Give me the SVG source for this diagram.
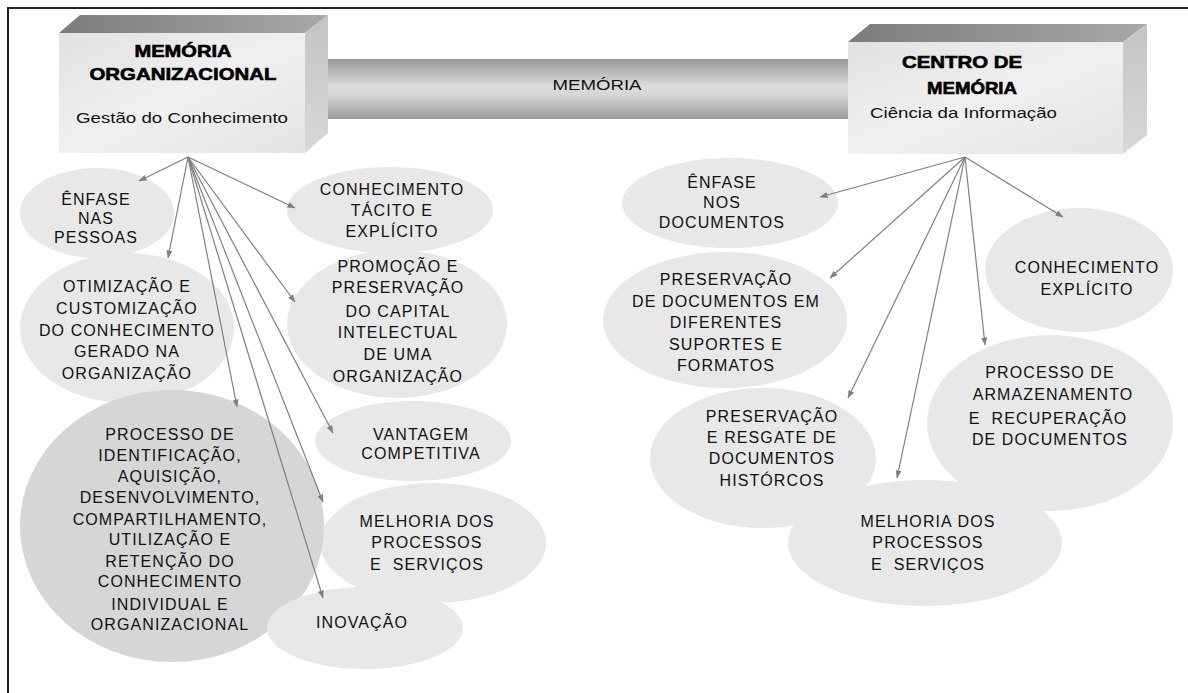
<svg xmlns="http://www.w3.org/2000/svg" width="1188" height="693" viewBox="0 0 1188 693">
<defs>
<style>
.t{font-family:"Liberation Sans",Arial,sans-serif;font-size:16px;letter-spacing:1.1px;fill:#111;text-anchor:middle}
.h{font-family:"Liberation Sans",Arial,sans-serif;font-size:17px;font-weight:bold;fill:#000;stroke:#000;stroke-width:0.6;text-anchor:middle}
.s{font-family:"Liberation Sans",Arial,sans-serif;font-size:15px;fill:#111;text-anchor:middle}
.e{fill:#e8e8e8}
.ed{fill:#d6d6d6}
.c{stroke:#808080;stroke-width:1.2;fill:none;marker-end:url(#ah)}
.pre{white-space:pre}
</style>
<marker id="ah" markerWidth="8" markerHeight="6" refX="7.5" refY="3" orient="auto" markerUnits="userSpaceOnUse">
<path d="M0,0 L8,3 L0,6 z" fill="#808080"/>
</marker>
<linearGradient id="bar" x1="0" y1="0" x2="0" y2="1">
<stop offset="0" stop-color="#999"/>
<stop offset="0.45" stop-color="#dcdcdc"/>
<stop offset="0.6" stop-color="#d6d6d6"/>
<stop offset="1" stop-color="#9c9c9c"/>
</linearGradient>
<linearGradient id="top" x1="0" y1="0" x2="1" y2="0">
<stop offset="0" stop-color="#7c7c7c"/>
<stop offset="1" stop-color="#a8a8a8"/>
</linearGradient>
<linearGradient id="front" x1="0" y1="0" x2="1" y2="1">
<stop offset="0" stop-color="#e2e2e2"/>
<stop offset="0.5" stop-color="#f0f0f0"/>
<stop offset="1" stop-color="#e4e4e4"/>
</linearGradient>
<linearGradient id="side" x1="0" y1="0" x2="0" y2="1">
<stop offset="0" stop-color="#c4c4c4"/>
<stop offset="1" stop-color="#d8d8d8"/>
</linearGradient>
</defs>
<rect width="1188" height="693" fill="#fff"/>
<path d="M8,693 V8 H1188" fill="none" stroke="#222" stroke-width="2"/>

<g id="memoria-bar">
<rect x="300" y="59" width="560" height="60" fill="url(#bar)"/>
<text class="s" x="597" y="90" font-size="14" textLength="89" lengthAdjust="spacingAndGlyphs">MEMÓRIA</text>
</g>

<g id="memoria-organizacional">
<polygon points="59,33 305,33 328,15 80,15" fill="url(#top)"/>
<polygon points="305,33 328,15 328,133 305,153" fill="url(#side)"/>
<rect x="59" y="33" width="246" height="120" fill="url(#front)"/>
<text class="h" x="183" y="57" textLength="97" lengthAdjust="spacingAndGlyphs">MEMÓRIA</text>
<text class="h" x="183" y="80" textLength="187" lengthAdjust="spacingAndGlyphs">ORGANIZACIONAL</text>
<text class="s" x="182" y="123" textLength="212" lengthAdjust="spacingAndGlyphs">Gestão do Conhecimento</text>
</g>

<g id="centro-de-memoria">
<polygon points="848,42 1123,42 1147,24 870,24" fill="url(#top)"/>
<polygon points="1123,42 1147,24 1147,135 1123,154" fill="url(#side)"/>
<rect x="848" y="42" width="275" height="112" fill="url(#front)"/>
<text class="h" x="962" y="68" textLength="120" lengthAdjust="spacingAndGlyphs">CENTRO DE</text>
<text class="h" x="972" y="94" textLength="90" lengthAdjust="spacingAndGlyphs">MEMÓRIA</text>
<text class="s" x="963.5" y="118" textLength="187" lengthAdjust="spacingAndGlyphs">Ciência da Informação</text>
</g>

<g id="enfase-pessoas">
<ellipse class="e" cx="97" cy="213" rx="77" ry="45"/>
<text class="t" x="96" y="205">ÊNFASE</text>
<text class="t" x="96" y="224">NAS</text>
<text class="t" x="96" y="243">PESSOAS</text>
</g>

<g id="conhecimento-tacito">
<ellipse class="e" cx="390" cy="210" rx="103" ry="43"/>
<text class="t" x="392" y="195">CONHECIMENTO</text>
<text class="t" x="392" y="216">TÁCITO E</text>
<text class="t" x="392" y="237">EXPLÍCITO</text>
</g>

<g id="otimizacao">
<ellipse class="e" cx="127" cy="328" rx="107" ry="75"/>
<text class="t" x="127" y="292">OTIMIZAÇÃO E</text>
<text class="t" x="127" y="314">CUSTOMIZAÇÃO</text>
<text class="t" x="127" y="336">DO CONHECIMENTO</text>
<text class="t" x="127" y="357">GERADO NA</text>
<text class="t" x="127" y="379">ORGANIZAÇÃO</text>
</g>

<g id="promocao">
<ellipse class="e" cx="397" cy="324" rx="110" ry="74"/>
<text class="t" x="398" y="272">PROMOÇÃO E</text>
<text class="t" x="398" y="293">PRESERVAÇÃO</text>
<text class="t" x="398" y="317">DO CAPITAL</text>
<text class="t" x="398" y="338">INTELECTUAL</text>
<text class="t" x="398" y="360">DE UMA</text>
<text class="t" x="398" y="382">ORGANIZAÇÃO</text>
</g>

<g id="vantagem">
<ellipse class="e" cx="413" cy="441" rx="98" ry="40"/>
<text class="t" x="421" y="440">VANTAGEM</text>
<text class="t" x="421" y="459">COMPETITIVA</text>
</g>

<g id="melhoria-esq">
<ellipse class="e" cx="433" cy="543" rx="113" ry="60"/>
<text class="t" x="427" y="527">MELHORIA DOS</text>
<text class="t" x="427" y="548">PROCESSOS</text>
<text class="t pre" x="427" y="570">E  SERVIÇOS</text>
</g>

<g id="processo-identificacao">
<ellipse class="ed" cx="172" cy="526" rx="152" ry="136"/>
<text class="t" x="170" y="440">PROCESSO DE</text>
<text class="t" x="170" y="461">IDENTIFICAÇÃO,</text>
<text class="t" x="170" y="482">AQUISIÇÃO,</text>
<text class="t" x="170" y="503">DESENVOLVIMENTO,</text>
<text class="t" x="170" y="525">COMPARTILHAMENTO,</text>
<text class="t" x="170" y="545">UTILIZAÇÃO E</text>
<text class="t" x="170" y="567">RETENÇÃO DO</text>
<text class="t" x="170" y="587">CONHECIMENTO</text>
<text class="t" x="170" y="610">INDIVIDUAL E</text>
<text class="t" x="170" y="630">ORGANIZACIONAL</text>
</g>

<g id="inovacao">
<ellipse class="e" cx="365" cy="628" rx="98" ry="41"/>
<text class="t" x="362" y="628">INOVAÇÃO</text>
</g>

<g id="enfase-documentos">
<ellipse class="e" cx="730" cy="203" rx="108" ry="45"/>
<text class="t" x="722" y="188">ÊNFASE</text>
<text class="t" x="722" y="208">NOS</text>
<text class="t" x="722" y="228">DOCUMENTOS</text>
</g>

<g id="preservacao-suportes">
<ellipse class="e" cx="725" cy="320" rx="122" ry="68"/>
<text class="t" x="726" y="285">PRESERVAÇÃO</text>
<text class="t" x="726" y="307">DE DOCUMENTOS EM</text>
<text class="t" x="726" y="328">DIFERENTES</text>
<text class="t" x="726" y="350">SUPORTES E</text>
<text class="t" x="726" y="371">FORMATOS</text>
</g>

<g id="conhecimento-explicito">
<ellipse class="e" cx="1079" cy="270" rx="94" ry="62"/>
<text class="t" x="1087" y="273">CONHECIMENTO</text>
<text class="t" x="1087" y="295">EXPLÍCITO</text>
</g>

<g id="preservacao-resgate">
<ellipse class="e" cx="763" cy="458" rx="113" ry="70"/>
<text class="t" x="772" y="422">PRESERVAÇÃO</text>
<text class="t" x="772" y="443">E RESGATE DE</text>
<text class="t" x="772" y="464">DOCUMENTOS</text>
<text class="t" x="772" y="486">HISTÓRCOS</text>
</g>

<g id="armazenamento">
<ellipse class="e" cx="1050" cy="423" rx="123" ry="88"/>
<text class="t" x="1050" y="378">PROCESSO DE</text>
<text class="t" x="1053" y="400">ARMAZENAMENTO</text>
<text class="t pre" x="1048" y="424">E  RECUPERAÇÃO</text>
<text class="t" x="1050" y="445">DE DOCUMENTOS</text>
</g>

<g id="melhoria-dir">
<ellipse class="e" cx="925" cy="543" rx="137" ry="63"/>
<text class="t" x="928" y="527">MELHORIA DOS</text>
<text class="t" x="928" y="548">PROCESSOS</text>
<text class="t pre" x="928" y="570">E  SERVIÇOS</text>
</g>

<g id="connectors">
<line class="c" x1="188" y1="157" x2="139" y2="181"/>
<line class="c" x1="188" y1="157" x2="295" y2="208"/>
<line class="c" x1="188" y1="157" x2="168" y2="258"/>
<line class="c" x1="188" y1="157" x2="295" y2="302"/>
<line class="c" x1="188" y1="157" x2="237" y2="407"/>
<line class="c" x1="188" y1="157" x2="333" y2="433"/>
<line class="c" x1="188" y1="157" x2="323" y2="502"/>
<line class="c" x1="188" y1="157" x2="323" y2="598"/>
<line class="c" x1="965" y1="157" x2="820" y2="197"/>
<line class="c" x1="965" y1="157" x2="830" y2="278"/>
<line class="c" x1="965" y1="157" x2="1063" y2="217"/>
<line class="c" x1="965" y1="157" x2="848" y2="398"/>
<line class="c" x1="965" y1="157" x2="985" y2="345"/>
<line class="c" x1="965" y1="157" x2="897" y2="478"/>
</g>
</svg>
